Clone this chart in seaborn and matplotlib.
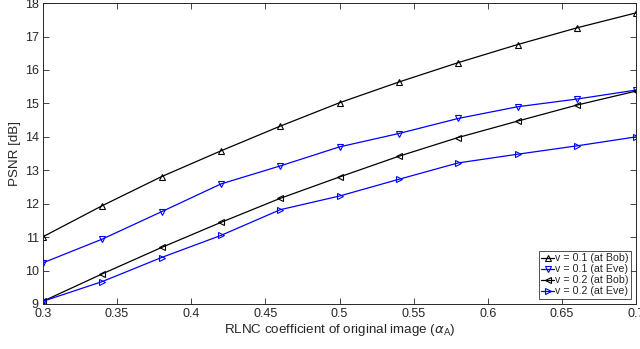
import matplotlib
matplotlib.use("Agg")
import matplotlib.pyplot as plt
import seaborn as sns
import pandas as pd

# RLNC coefficient values
alpha = [0.30, 0.34, 0.38, 0.42, 0.46, 0.50, 0.54, 0.58, 0.62, 0.66, 0.70]

# PSNR [dB]
bob_v01 = [11.01, 11.94, 12.81, 13.58, 14.32, 15.02, 15.64, 16.22, 16.76, 17.26, 17.71]
eve_v01 = [10.23, 10.94, 11.76, 12.59, 13.13, 13.70, 14.10, 14.55, 14.90, 15.13, 15.40]
bob_v02 = [9.08, 9.90, 10.69, 11.44, 12.16, 12.80, 13.42, 13.98, 14.47, 14.95, 15.37]
eve_v02 = [9.08, 9.67, 10.39, 11.05, 11.82, 12.23, 12.73, 13.22, 13.48, 13.73, 14.00]

labels = ["v = 0.1 (at Bob)", "v = 0.1 (at Eve)", "v = 0.2 (at Bob)", "v = 0.2 (at Eve)"]
colors = ["black", "#0000ff", "black", "#0000ff"]
markers = ["^", "v", "<", ">"]

sns.set_theme(style="ticks")
plt.rcParams["font.family"] = ["Liberation Sans", "DejaVu Sans"]

fig = plt.figure(figsize=(6.4, 3.49), dpi=100)
ax = fig.add_axes([0.067, 0.129, 0.927, 0.862])

for ys, lab, c, m in zip([bob_v01, eve_v01, bob_v02, eve_v02], labels, colors, markers):
    df = pd.DataFrame({"alpha": alpha, "psnr": ys})
    sns.lineplot(data=df, x="alpha", y="psnr", ax=ax, color=c, marker=m,
                 markersize=4.5, markerfacecolor="none", markeredgecolor=c,
                 markeredgewidth=0.8, linewidth=0.9, label=lab)

ax.set_xlim(0.3, 0.7)
ax.set_ylim(9, 18)
ax.set_xticks([0.3, 0.35, 0.4, 0.45, 0.5, 0.55, 0.6, 0.65, 0.7])
ax.set_xticklabels(["0.3", "0.35", "0.4", "0.45", "0.5", "0.55", "0.6", "0.65", "0.7"])
ax.set_yticks(range(9, 19))
ax.tick_params(direction="in", top=True, right=True, labelsize=9,
               colors="#262626", length=4, width=0.6, pad=3)
for s in ax.spines.values():
    s.set_linewidth(0.7)
    s.set_color("#262626")
    s.set_visible(True)

ax.set_xlabel(r"RLNC coefficient of original image ($\alpha_\mathrm{A}$)",
              fontsize=9.6, color="#262626", labelpad=1)
ax.set_ylabel("PSNR [dB]", fontsize=9.6, color="#262626", labelpad=3)

leg = ax.legend(loc="lower right", fontsize=7.7, frameon=True, fancybox=False,
                handlelength=1.2, handletextpad=0.1, borderpad=0.2,
                labelspacing=0.1, borderaxespad=0.5)
leg.get_frame().set_edgecolor("black")
leg.get_frame().set_linewidth(0.6)

fig.savefig("out.png", dpi=100)
